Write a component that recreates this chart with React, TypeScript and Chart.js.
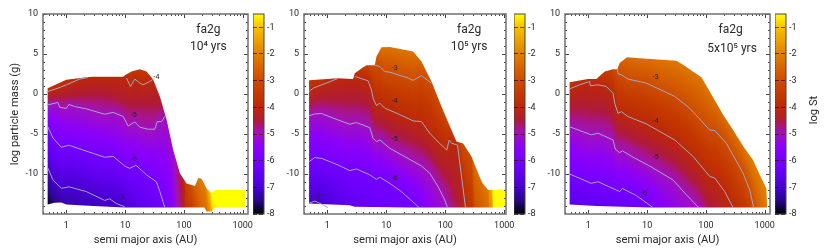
import React, { useEffect, useRef } from "react";
import { Chart, registerables } from "chart.js";

Chart.register(...registerables);

type Pt = [number, number]; // [log10 AU, log10 mass]

// ---- colour bar
const cbStops: [number, string][] = [
  [-8, "#000000"], [-7.5, "#260888"], [-7, "#4800d0"], [-6.5, "#6000f0"], [-6, "#7400ff"],
  [-5.5, "#8c00f8"], [-5, "#a010c0"], [-4.75, "#a81488"], [-4.5, "#b01a38"], [-4, "#bc2808"], [-3.5, "#c43800"],
  [-3, "#cc4c00"], [-2.5, "#d86400"], [-2, "#e08000"], [-1.5, "#eca000"], [-1, "#f8c000"],
  [-0.5, "#ffff00"],
];
const cbTicks = [-8, -7, -6, -5, -4, -3, -2, -1];

// ---- axes
const xMajor = [1, 10, 100, 1000];
const xDecades = [0.1, 1, 10, 100, 1000];
const xMults = [2, 3, 4, 5, 6, 7, 8, 9];
const yMajor = [-10, -5, 0, 5, 10];
const yMinor = [-14, -13, -12, -11, -9, -8, -7, -6, -4, -3, -2, -1, 1, 2, 3, 4, 6, 7, 8, 9];

// ---- panel 1 (10^4 yrs)
const p1Top: Pt[] = [[-0.318, 0.73], [0, 1.77], [0.341, 2.1], [0.455, 2.15], [0.966, 2.15], [1.011, 2.4], [1.108, 2.8], [1.25, 3.1], [1.364, 2.8], [1.477, 1.8], [1.591, -0.3], [1.705, -3.2], [1.818, -7], [1.932, -9.9], [2.045, -11.2], [2.188, -11.5], [2.244, -10.5], [2.301, -10.6], [2.386, -11.8], [2.472, -12.4], [2.528, -12], [3.04, -12]];
const p1Bottom: Pt[] = [[3.04, -14.2], [2.528, -14.2], [2.472, -14.7], [2.386, -14.7], [2.35, -14.2], [0.994, -14.2], [0.455, -14], [0, -13.8], [-0.085, -13.55], [-0.2, -13.6], [-0.318, -13.8]];
const p1C4a: Pt[] = [[-0.318, 0.31], [-0.142, 0.73], [0, 1.15], [0.227, 1.86], [0.369, 2.07]];
const p1C4b: Pt[] = [[1.023, 2.0], [1.091, 0.94], [1.165, 1.86], [1.25, 1.36], [1.307, 1.15], [1.42, 1.57], [1.5, 1.95]];
const p1C5: Pt[] = [[-0.318, -1.36], [-0.142, -1.06], [-0.114, -1.65], [0, -1.8], [0.045, -1.3], [0.142, -1.57], [0.341, -1.86], [0.653, -2.53], [0.795, -2.3], [0.966, -2.8], [1.051, -4], [1.165, -3.5], [1.25, -4.15], [1.392, -4.4], [1.506, -4.4], [1.545, -3.45], [1.619, -3.45], [1.688, -2.7]];
const p1C6: Pt[] = [[-0.318, -4.07], [-0.227, -5.5], [-0.085, -6.66], [0.045, -6.4], [0.284, -7], [0.653, -7.9], [0.795, -7.8], [0.994, -9], [1.08, -9.3], [1.182, -8.9], [1.364, -10.1], [1.534, -11], [1.591, -12.2], [1.676, -14.2]];
const p1C7: Pt[] = [[-0.318, -9.2], [-0.227, -10.75], [-0.085, -11.8], [0.045, -11.6], [0.341, -12.2], [0.653, -13.3], [0.739, -13.1], [0.852, -13.7], [0.994, -14.1]];
const p1Shade: Record<string, Pt[]> = {
  "-8": [[-0.318, -14.3], [-0.1, -18], [0, -21], [1.5, -30], [3.1, -70]],
  "-7": [[1.364, -20], [3.1, -60]],
  "-6": [[1.761, -17], [1.875, -24], [3.1, -50]],
  "-5.5": [[-0.318, -2.7], [0, -4.1], [0.65, -5.2], [1.05, -6.5], [1.5, -7.5], [1.7, -8.5], [1.8, -12], [1.84, -18], [3.1, -45]],
  "-5": [[1.818, -5], [1.86, -10], [1.89, -18], [3.1, -40]],
  "-4.5": [[-0.318, -0.5], [0, -0.3], [0.65, 0], [1.05, -1.2], [1.5, -1.2], [1.8, -1.5], [1.93, -6], [1.96, -12], [1.985, -18], [3.1, -38]],
  "-4": [[1.705, 0], [1.932, -3], [2.0, -10], [2.03, -16], [3.1, -35]],
  "-3": [[-0.318, 3.5], [0.37, 5], [1.42, 5], [1.6, 3], [1.9, -5], [2.1, -11], [2.2, -14.5], [2.3, -19], [3.1, -30]],
  "-2": [[-0.318, 7], [1.4, 8], [1.9, 0], [2.2, -8], [2.35, -11], [2.42, -15], [3.1, -25]],
  "-1": [[-0.318, 11], [1.9, 5], [2.3, -4], [2.42, -11], [2.483, -15], [3.1, -20]],
};

// ---- panel 2 (10^5 yrs)
const p2Top: Pt[] = [[-0.311, 1.73], [0.181, 1.98], [0.436, 1.86], [0.464, 2.6], [0.589, 3.24], [0.662, 3.6], [0.804, 3.6], [0.832, 4.7], [0.917, 5.83], [1.058, 5.87], [1.37, 5.45], [1.454, 5.3], [1.596, 4.07], [1.766, 1.57], [1.935, -1.57], [2.105, -4.5], [2.19, -5.95], [2.303, -6.2], [2.445, -7.8], [2.558, -9.9], [2.626, -11.1], [2.728, -12], [2.841, -12], [2.926, -11.9], [3.028, -12]];
const p2Bottom: Pt[] = [[3.028, -14.2], [1.37, -14.2], [0.464, -14.1], [0.379, -13.9], [-0.311, -13.7]];
const p2C3: Pt[] = [[0.804, 3.6], [0.889, 3.45], [0.973, 2.8], [1.058, 2.73], [1.37, 2], [1.454, 1.7], [1.596, 2.3], [1.766, 1.35]];
const p2C4a: Pt[] = [[-0.311, 0.31], [-0.243, 0.73], [0.181, 1.94]];
const p2C4b: Pt[] = [[0.464, 2.2], [0.69, 1.65], [0.747, 0.52], [0.775, -0.52], [0.832, -1.44], [0.889, -1.15], [0.973, -1.77], [1.2, -2.48], [1.454, -3.36], [1.596, -3.45], [1.737, -4.9], [1.879, -6], [2.026, -7], [2.066, -5.75], [2.105, -6.16], [2.207, -6.37], [2.343, -14.2]];
const p2C5: Pt[] = [[-0.311, -2.7], [-0.215, -2.5], [-0.102, -2.44], [0.181, -3.24], [0.379, -3.78], [0.492, -3.57], [0.719, -4.2], [0.775, -5.53], [0.832, -5.95], [0.889, -5.74], [1.058, -6.78], [1.256, -7.6], [1.596, -9], [1.737, -9.9], [1.879, -11.6], [1.992, -13.25], [2.037, -14.2]];
const p2C6: Pt[] = [[-0.311, -8.45], [-0.215, -7.95], [-0.102, -8.04], [0.181, -8.87], [0.379, -9.58], [0.492, -9.37], [0.719, -10.1], [0.832, -10.67], [0.889, -10.4], [1.058, -11.17], [1.256, -12.2], [1.483, -13.7], [1.556, -14.2]];
const p2C7: Pt[] = [[-0.311, -13.67], [-0.215, -13.38], [-0.102, -13.76], [0.011, -14.2]];
const p2Shade: Record<string, Pt[]> = {
  "-8": [[-0.311, -18], [0.011, -20], [3.1, -70]],
  "-7": [[0.5, -20], [3.1, -60]],
  "-6": [[1.9, -22], [3.1, -50]],
  "-5": [[2.2, -20], [3.1, -40]],
  "-4": [[2.5, -20], [3.1, -35]],
  "-3": [[-0.311, 3.5], [0.181, 4.8], [0.464, 5], [0.75, 3.8], [2.162, -4.5], [2.445, -8], [2.501, -15], [3.1, -30]],
  "-2": [[-0.311, 7], [0.8, 7], [1.058, 6.8], [1.596, 6], [2.162, 1], [2.501, -6], [2.728, -11], [2.756, -16], [3.1, -25]],
  "-1": [[-0.311, 11], [2.501, 0], [2.784, -9], [2.813, -16], [3.1, -20]],
};

// ---- panel 3 (5x10^5 yrs)
const p3Top: Pt[] = [[-0.318, 1.48], [-0.176, 1.65], [-0.006, 1.86], [0.136, 1.86], [0.278, 2.82], [0.42, 3.1], [0.493, 3.1], [0.533, 3.86], [0.658, 4.6], [0.817, 4.5], [1.497, 4.15], [1.611, 3.65], [1.923, 2.1], [2.065, 0.3], [2.292, -2.6], [2.462, -4.5], [2.66, -6.8], [2.802, -8.25], [2.915, -10.1], [3.029, -11.8], [3.04, -14.2]];
const p3Bottom: Pt[] = [[3.04, -14.2], [1.044, -14.2], [0.136, -14], [-0.318, -13.8]];
const p3C3: Pt[] = [[0.493, 3.1], [0.505, 2.53], [0.562, 2.4], [0.675, 1.86], [0.987, 1.36], [1.469, -0.3], [1.724, -1.77], [2.065, -4.5], [2.15, -4.57], [2.348, -6.16], [2.632, -9.9], [2.745, -12], [2.813, -14.2]];
const p3C4: Pt[] = [[-0.318, 0.65], [-0.147, 1.15], [0.023, 1.57], [0.034, 1.02], [0.164, 1.15], [0.306, 0.94], [0.42, 0.1], [0.448, -1.15], [0.505, -2.4], [0.562, -2.2], [0.675, -2.82], [0.987, -3.74], [1.469, -5.74], [1.781, -7.8], [2.065, -10.3], [2.15, -10.5], [2.32, -12.2], [2.462, -14.2]];
const p3C5: Pt[] = [[-0.318, -4.1], [0.051, -5.1], [0.164, -4.9], [0.42, -5.74], [0.459, -6.9], [0.533, -7.33], [0.579, -7.1], [0.76, -7.9], [1.044, -9], [1.441, -10.75], [1.668, -12.6], [1.877, -14.2]];
const p3C6: Pt[] = [[-0.318, -10], [0.051, -11.17], [0.164, -10.96], [0.533, -12.2], [0.579, -11.8], [0.817, -12.7], [1.044, -13.9], [1.1, -14.2]];
const p3Shade: Record<string, Pt[]> = {
  "-8": [[-0.318, -22], [1.1, -30], [3.1, -70]],
  "-7": [[-0.318, -16], [1.1, -20], [3.1, -60]],
  "-6": [[1.5, -20], [3.1, -50]],
  "-5": [[2.2, -20], [3.1, -40]],
  "-4": [[2.8, -20], [3.1, -35]],
  "-3": [[-0.318, 4], [0.023, 4.6], [0.42, 3.8], [3.1, -25]],
  "-2": [[-0.318, 8], [0.658, 6.2], [1.497, 5], [1.923, 3.2], [2.292, -1], [2.66, -6], [2.915, -10], [3.04, -13], [3.1, -15]],
  "-1": [[-0.318, 13], [3.1, -7]],
};

// ---- texts: [text, log10 AU, log mass]
const p1Labels: [string, number, number][] = [["-4", 1.534, 2.07], ["-5", 1.148, -2.69], ["-6", 1.148, -8.2], ["-7", 0.9375, -12.96]];
const p2Labels: [string, number, number][] = [["-3", 1.143, 3.28], ["-4", 1.143, -0.94], ["-5", 1.143, -5.66], ["-6", 1.143, -10.5], ["-7", -0.158, -12.96]];
const p3Labels: [string, number, number][] = [["-3", 1.146, 2.07], ["-4", 1.146, -3.44], ["-5", 1.146, -7.95], ["-6", 0.947, -12.46]];
const p1Notes: [string, number, number][] = [["fa2g", 2.415, 7.95], ["10\u2074 yrs", 2.415, 5.87]];
const p2Notes: [string, number, number][] = [["fa2g", 2.405, 7.95], ["10\u2075 yrs", 2.405, 5.87]];
const p3Notes: [string, number, number][] = [["fa2g", 2.42, 7.95], ["5x10\u2075 yrs", 2.445, 5.65]];

const FONT = "Roboto";
const TEXT = "#2a2a2a";
const FRAME = "#707070";
const TICK = "#444444";
const CONTOUR = "#a6a6c6";

function hex(c: string): number[] {
  return [1, 3, 5].map((i) => parseInt(c.slice(i, i + 2), 16));
}
function colorAt(v: number): number[] {
  if (v <= cbStops[0][0]) return hex(cbStops[0][1]);
  for (let i = 1; i < cbStops.length; i++) {
    if (v <= cbStops[i][0]) {
      const t = (v - cbStops[i - 1][0]) / (cbStops[i][0] - cbStops[i - 1][0]);
      const a = hex(cbStops[i - 1][1]);
      const b = hex(cbStops[i][1]);
      return a.map((u, k) => u + (b[k] - u) * t);
    }
  }
  return hex(cbStops[cbStops.length - 1][1]);
}
function interp(pts: Pt[], la: number): number {
  if (la <= pts[0][0]) return pts[0][1];
  for (let i = 1; i < pts.length; i++) {
    if (la <= pts[i][0]) {
      const t = (la - pts[i - 1][0]) / (pts[i][0] - pts[i - 1][0] || 1);
      return pts[i - 1][1] + (pts[i][1] - pts[i - 1][1]) * t;
    }
  }
  return pts[pts.length - 1][1];
}
const toXY = (pts: Pt[]) => pts.map(([a, m]) => ({ x: 10 ** a, y: m }));

type Level = { value: number; pts: Pt[] };

function buildPattern(chart: any, levels: Level[]) {
  const { left, right, top, bottom } = chart.chartArea;
  const off = document.createElement("canvas");
  off.width = chart.width;
  off.height = chart.height;
  const g = off.getContext("2d")!;
  const img = g.createImageData(off.width, off.height);
  const slope = 0.25;
  for (let px = Math.floor(left); px < Math.ceil(right); px++) {
    const la = Math.log10(chart.scales.x.getValueForPixel(px + 0.5));
    const ys = levels.map((l) => interp(l.pts, la));
    for (let k = 1; k < ys.length; k++) ys[k] = Math.max(ys[k], ys[k - 1] + 0.01);
    for (let py = Math.floor(top); py < Math.ceil(bottom); py++) {
      const m = chart.scales.y.getValueForPixel(py + 0.5);
      let v: number;
      if (m <= ys[0]) v = levels[0].value - (ys[0] - m) * slope;
      else if (m >= ys[ys.length - 1]) v = levels[ys.length - 1].value + (m - ys[ys.length - 1]) * slope;
      else {
        let k = 0;
        while (m > ys[k + 1]) k++;
        v = levels[k].value + ((m - ys[k]) / (ys[k + 1] - ys[k])) * (levels[k + 1].value - levels[k].value);
      }
      const c = colorAt(v);
      const i = (py * off.width + px) * 4;
      img.data[i] = c[0];
      img.data[i + 1] = c[1];
      img.data[i + 2] = c[2];
      img.data[i + 3] = 255;
    }
  }
  g.putImageData(img, 0, 0);
  return chart.ctx.createPattern(off, "no-repeat");
}

type PanelProps = {
  left: number; plotL: number; plotR: number; xMaxLog: number;
  top: Pt[]; bottom: Pt[]; contours: Pt[][];
  levels: Record<string, Pt[][]>;
  labels: [string, number, number][]; notes: [string, number, number][];
  yTitle?: string;
};

const PLOT_T = 14;
const PLOT_B = 214;
const H = 251;

function Panel(p: PanelProps) {
  const ref = useRef<HTMLCanvasElement>(null);
  const width = p.plotR - p.left + 24;
  useEffect(() => {
    const levels: Level[] = Object.keys(p.levels)
      .map((k) => ({
        value: Number(k),
        pts: p.levels[k].flat().slice().sort((a, b) => a[0] - b[0]) as Pt[],
      }))
      .sort((a, b) => a.value - b.value);
    let pattern: any = null;
    const frame = {
      id: "frame",
      afterDatasetsDraw(chart: any) {
        const { ctx, chartArea: a, scales } = chart;
        const x = scales.x;
        const y = scales.y;
        ctx.save();
        ctx.strokeStyle = TICK;
        ctx.lineWidth = 1;
        ctx.beginPath();
        const vt = (v: number, len: number) => {
          const px = Math.round(x.getPixelForValue(v)) + 0.5;
          if (px < a.left || px > a.right) return;
          ctx.moveTo(px, a.bottom); ctx.lineTo(px, a.bottom - len);
          ctx.moveTo(px, a.top); ctx.lineTo(px, a.top + len);
        };
        const ht = (v: number, len: number) => {
          const py = Math.round(y.getPixelForValue(v)) + 0.5;
          ctx.moveTo(a.left, py); ctx.lineTo(a.left + len, py);
          ctx.moveTo(a.right, py); ctx.lineTo(a.right - len, py);
        };
        xMajor.forEach((v) => vt(v, 4));
        xDecades.forEach((d) => xMults.forEach((m) => vt(d * m, 2)));
        yMajor.forEach((v) => ht(v, 4));
        yMinor.forEach((v) => ht(v, 2));
        ctx.stroke();
        ctx.strokeStyle = FRAME;
        ctx.lineWidth = 1.5;
        ctx.strokeRect(a.left, a.top, a.right - a.left, a.bottom - a.top);
        ctx.textAlign = "center";
        ctx.textBaseline = "middle";
        ctx.fillStyle = "#222222";
        ctx.font = `7px ${FONT}`;
        p.labels.forEach(([t, la, m]) => ctx.fillText(t, x.getPixelForValue(10 ** la), y.getPixelForValue(m)));
        ctx.fillStyle = TEXT;
        ctx.font = `12px ${FONT}`;
        p.notes.forEach(([t, la, m]) => ctx.fillText(t, x.getPixelForValue(10 ** la), y.getPixelForValue(m)));
        ctx.restore();
      },
    };
    const chart = new Chart(ref.current!, {
      type: "scatter",
      data: {
        datasets: [
          ...p.contours.map((c) => ({
            data: toXY(c), showLine: true, borderColor: CONTOUR, borderWidth: 1, pointRadius: 0, order: 1,
          })),
          {
            data: toXY([...p.top, ...p.bottom]),
            showLine: true,
            fill: "shape",
            borderWidth: 0,
            borderColor: "rgba(0,0,0,0)",
            pointRadius: 0,
            order: 2,
            backgroundColor: (c: any) => {
              if (!c.chart.chartArea) return "rgba(0,0,0,0)";
              if (!pattern) pattern = buildPattern(c.chart, levels);
              return pattern;
            },
          },
        ] as any,
      },
      options: {
        animation: false,
        responsive: false,
        events: [],
        layout: { padding: { top: PLOT_T, right: width - (p.plotR - p.left), left: 0, bottom: 0 } },
        plugins: { legend: { display: false }, tooltip: { enabled: false } },
        scales: {
          x: {
            type: "logarithmic",
            min: 10 ** -0.397,
            max: 10 ** p.xMaxLog,
            grid: { display: false, drawTicks: false },
            border: { display: false },
            afterBuildTicks: (s: any) => { s.ticks = xMajor.map((value) => ({ value })); },
            afterFit: (s: any) => { s.height = H - PLOT_B; },
            ticks: {
              autoSkip: false, maxRotation: 0, padding: 6, color: TEXT,
              font: { family: FONT, size: 9 },
              callback: (v: any) => String(v),
            },
            title: {
              display: true, text: "semi major axis (AU)", color: TEXT,
              font: { family: FONT, size: 11.2 }, padding: { top: 0, bottom: 4 },
            },
          },
          y: {
            type: "linear",
            min: -15,
            max: 10,
            grid: { display: false, drawTicks: false },
            border: { display: false },
            afterBuildTicks: (s: any) => { s.ticks = yMajor.map((value) => ({ value })); },
            afterFit: (s: any) => { s.width = p.plotL - p.left; },
            ticks: {
              padding: 5, color: TEXT, font: { family: FONT, size: 9 },
              callback: (v: any) => String(v),
            },
            title: {
              display: !!p.yTitle, text: p.yTitle || "", color: TEXT,
              font: { family: FONT, size: 11.2 }, padding: { top: 8, bottom: 0 },
            },
          },
        },
      } as any,
      plugins: [frame],
    });
    return () => chart.destroy();
  }, []);
  return (
    <canvas
      ref={ref}
      width={width}
      height={H}
      style={{ position: "absolute", left: p.left, top: 0, width, height: H, filter: "blur(0.35px)" }}
    />
  );
}

function ColorBar({ left, right, title }: { left: number; right: number; title?: string }) {
  const ref = useRef<HTMLCanvasElement>(null);
  const barW = right - left;
  const width = title ? 830 - left : barW + 24;
  useEffect(() => {
    const deco = {
      id: "deco",
      afterDatasetsDraw(chart: any) {
        const { ctx, chartArea: a } = chart;
        ctx.save();
        ctx.strokeStyle = "#444444";
        ctx.lineWidth = 1;
        ctx.strokeRect(a.left, a.top, a.right - a.left, a.bottom - a.top);
        if (title) {
          ctx.translate(814 - left, (a.top + a.bottom) / 2 - 4);
          ctx.rotate(-Math.PI / 2);
          ctx.textAlign = "center";
          ctx.textBaseline = "middle";
          ctx.fillStyle = TEXT;
          ctx.font = `11.2px ${FONT}`;
          ctx.fillText(title, 0, 0);
        }
        ctx.restore();
      },
    };
    const chart = new Chart(ref.current!, {
      type: "bar",
      data: {
        labels: ["log St"],
        datasets: [{
          data: [[cbStops[0][0], cbStops[cbStops.length - 1][0]]],
          barPercentage: 1,
          categoryPercentage: 1,
          backgroundColor: (c: any) => {
            const s = c.chart.scales.y;
            if (!c.chart.chartArea || !s) return "#888888";
            const minV = cbStops[0][0];
            const maxV = cbStops[cbStops.length - 1][0];
            const g = c.chart.ctx.createLinearGradient(0, s.getPixelForValue(minV), 0, s.getPixelForValue(maxV));
            cbStops.forEach(([v, col]) => g.addColorStop((v - minV) / (maxV - minV), col));
            return g;
          },
        }] as any,
      },
      options: {
        animation: false,
        responsive: false,
        events: [],
        layout: { padding: { top: PLOT_T, right: 0, left: 0, bottom: H - PLOT_B } },
        plugins: { legend: { display: false }, tooltip: { enabled: false } },
        scales: {
          x: { display: false },
          y: {
            position: "right",
            min: -8,
            max: -0.5,
            grid: { display: true, drawTicks: false, color: "rgba(40,0,0,0.65)", z: 1 } as any,
            border: { display: false, dash: [4, 2] },
            afterBuildTicks: (s: any) => { s.ticks = cbTicks.map((value) => ({ value })); },
            afterFit: (s: any) => { s.width = width - barW; },
            ticks: {
              padding: 3, color: TEXT, font: { family: FONT, size: 9 },
              callback: (v: any) => String(v),
            },
          },
        },
      } as any,
      plugins: [deco],
    });
    return () => chart.destroy();
  }, []);
  return (
    <canvas
      ref={ref}
      width={width}
      height={H}
      style={{ position: "absolute", left, top: 0, width, height: H, filter: "blur(0.35px)" }}
    />
  );
}

export default function App() {
  return (
    <div style={{ position: "absolute", left: 0, top: 0, width: 830, height: H, background: "#fff", overflow: "hidden" }}>
      <Panel
        left={0} plotL={43} plotR={248} xMaxLog={3.09}
        top={p1Top} bottom={p1Bottom} contours={[p1C4a, p1C4b, p1C5, p1C6, p1C7]}
        levels={{
          "-8": [p1Shade["-8"]], "-7": [p1C7, p1Shade["-7"]], "-6": [p1C6, p1Shade["-6"]],
          "-5.5": [p1Shade["-5.5"]], "-5": [p1C5, p1Shade["-5"]], "-4.5": [p1Shade["-4.5"]],
          "-4": [p1C4a, p1C4b, p1Shade["-4"]],
          "-3": [p1Shade["-3"]], "-2": [p1Shade["-2"]], "-1": [p1Shade["-1"]],
        }}
        labels={p1Labels} notes={p1Notes} yTitle="log particle mass (g)"
      />
      <ColorBar left={253} right={264} />
      <Panel
        left={264} plotL={304} plotR={506} xMaxLog={3.03}
        top={p2Top} bottom={p2Bottom} contours={[p2C3, p2C4a, p2C4b, p2C5, p2C6, p2C7]}
        levels={{
          "-8": [p2Shade["-8"]], "-7": [p2C7, p2Shade["-7"]], "-6": [p2C6, p2Shade["-6"]],
          "-5": [p2C5, p2Shade["-5"]], "-4": [p2C4a, p2C4b, p2Shade["-4"]],
          "-3": [p2C3, p2Shade["-3"]], "-2": [p2Shade["-2"]], "-1": [p2Shade["-1"]],
        }}
        labels={p2Labels} notes={p2Notes}
      />
      <ColorBar left={514} right={525} />
      <Panel
        left={525} plotL={565} plotR={770} xMaxLog={3.09}
        top={p3Top} bottom={p3Bottom} contours={[p3C3, p3C4, p3C5, p3C6]}
        levels={{
          "-8": [p3Shade["-8"]], "-7": [p3Shade["-7"]], "-6": [p3C6, p3Shade["-6"]],
          "-5": [p3C5, p3Shade["-5"]], "-4": [p3C4, p3Shade["-4"]],
          "-3": [p3C3, p3Shade["-3"]], "-2": [p3Shade["-2"]], "-1": [p3Shade["-1"]],
        }}
        labels={p3Labels} notes={p3Notes}
      />
      <ColorBar left={775} right={786} title="log St" />
    </div>
  );
}
